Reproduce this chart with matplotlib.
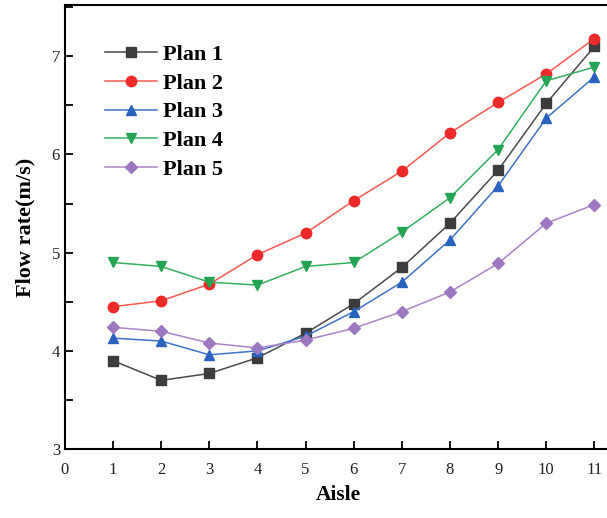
import matplotlib.pyplot as plt
from matplotlib.ticker import MultipleLocator

aisle = list(range(1, 12))
plan1 = [3.90, 3.70, 3.77, 3.93, 4.18, 4.48, 4.85, 5.30, 5.84, 6.52, 7.10]
plan2 = [4.45, 4.51, 4.68, 4.98, 5.20, 5.53, 5.83, 6.22, 6.53, 6.82, 7.18]
plan3 = [4.13, 4.10, 3.96, 4.00, 4.15, 4.40, 4.70, 5.13, 5.68, 6.37, 6.79]
plan4 = [4.90, 4.86, 4.70, 4.67, 4.86, 4.90, 5.21, 5.56, 6.05, 6.75, 6.89]
plan5 = [4.24, 4.20, 4.08, 4.03, 4.11, 4.23, 4.40, 4.60, 4.89, 5.30, 5.49]
labels = ["Plan 1", "Plan 2", "Plan 3", "Plan 4", "Plan 5"]

plt.rcParams['font.family'] = ['Liberation Serif', 'DejaVu Serif']

fig = plt.figure(figsize=(6.07, 5.18), dpi=100)
ax = fig.add_axes([0.107, 0.133, 0.90, 0.857])

styles = [
    (plan1, "#4a4a4a", "#3c3c3c", "s"),
    (plan2, "#f25a50", "#ec2a2a", "o"),
    (plan3, "#3f72c8", "#2a62bf", "^"),
    (plan4, "#34b060", "#26a455", "v"),
    (plan5, "#a884c8", "#9c78c0", "D"),
]
for (vals, lc, mc, mk), lab in zip(styles, labels):
    ms = 6.5 if mk == "D" else 7.5
    ax.plot(aisle, vals, color=lc, lw=1.1, marker=mk, markersize=ms,
            markerfacecolor=mc, markeredgecolor=mc, label=lab)

ax.set_xlim(0, 11.35)
ax.set_ylim(3, 7.52)
ax.xaxis.set_major_locator(MultipleLocator(1))
ax.yaxis.set_major_locator(MultipleLocator(1))
ax.yaxis.set_minor_locator(MultipleLocator(0.5))
ax.tick_params(axis='both', which='both', direction='in', length=6, width=1.3,
               labelsize=12, labelcolor='#222222', top=False, right=False)
ax.tick_params(axis='x', pad=9)
for s in ['left', 'bottom', 'top']:
    ax.spines[s].set_linewidth(1.5)
ax.spines['right'].set_visible(False)

ax.set_xlabel("Aisle", fontsize=15.5, fontweight='bold', labelpad=5)
ax.set_ylabel("Flow rate(m/s)", fontsize=16, fontweight='bold', labelpad=12)

leg = ax.legend(loc='upper left', bbox_to_anchor=(0.037, 0.957), frameon=False,
                prop={'weight': 'bold', 'size': 16}, handlelength=2.35,
                labelspacing=0.37, handletextpad=0.25)

fig.savefig("out.png", dpi=100)
